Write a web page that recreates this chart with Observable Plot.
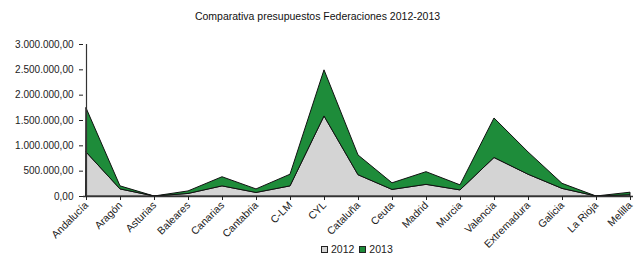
<!DOCTYPE html>
<html>
<head>
<meta charset="utf-8">
<script src="https://cdn.jsdelivr.net/npm/d3@7"></script>
<script src="https://cdn.jsdelivr.net/npm/@observablehq/plot@0.6"></script>
<style>
  html, body { margin: 0; padding: 0; background: #fff; }
  #wrap { position: relative; width: 635px; height: 257px; font-family: "Liberation Sans", Arial, sans-serif; overflow: hidden; }
  #title { position: absolute; top: 10px; left: 0; width: 635px; text-align: center; font-size: 10.5px; color: #111; }
  #legend { position: absolute; top: 243px; left: 321px; font-size: 10.5px; color: #222; display: flex; align-items: center; gap: 3px; }
  .sw { display: inline-block; width: 5px; height: 5px; border: 1px solid #222; }
  #chart { position: absolute; top: 0; left: 0; }
</style>
</head>
<body>
<div id="wrap">
  <div id="chart"></div>
  <div id="title">Comparativa presupuestos Federaciones 2012-2013</div>
  <div id="legend"><span class="sw" style="background:#d4d4d4"></span><span>2012</span><span class="sw" style="background:#1e8c3a;margin-left:2px"></span><span>2013</span></div>
</div>
<script>
const categories = ["Andalucía","Aragón","Asturias","Baleares","Canarias","Cantabria","C-LM","CYL","Cataluña","Ceuta","Madrid","Murcia","Valencia","Extremadura","Galicia","La Rioja","Melilla"];
const values2012 = [870000,140000,0,50000,200000,70000,200000,1580000,420000,130000,230000,120000,760000,430000,150000,0,25000];
const values2013 = [870000,60000,0,50000,180000,70000,230000,910000,390000,130000,250000,100000,780000,440000,100000,0,50000];
const yTicks = [0,500000,1000000,1500000,2000000,2500000,3000000];
const series = ["2012","2013"];

const data = [];
series.forEach((s, si) => {
  const vals = si === 0 ? values2012 : values2013;
  categories.forEach((c, i) => data.push({cat: c, year: s, value: vals[i]}));
});

const fmt = d3.formatLocale({decimal: ",", thousands: ".", grouping: [3], currency: ["", ""]}).format(",.2f");

const chart = Plot.plot({
  width: 635,
  height: 257,
  marginLeft: 83,
  marginRight: 2,
  marginTop: 44,
  marginBottom: 61,
  style: {fontFamily: "'Liberation Sans', Arial, sans-serif", fontSize: "10px", color: "#222", background: "transparent"},
  x: {type: "point", domain: categories, padding: 0, label: null},
  y: {domain: [0, 3000000], label: null},
  color: {domain: series, range: ["#d4d4d4", "#1e8c3a"]},
  marks: [
    Plot.areaY(data, {x: "cat", y: "value", z: "year", fill: "year", stroke: "#111", strokeWidth: 1}),
    Plot.ruleY([0], {stroke: "#333", strokeWidth: 1.5}),
    Plot.ruleX([categories[0]], {y1: 0, y2: 3000000, stroke: "#333", strokeWidth: 1.2}),
    Plot.axisY({ticks: yTicks, tickFormat: fmt, tickSize: 4, tickPadding: 6, fontSize: 10, label: null}),
    Plot.axisX({tickRotate: -45, tickSize: 4, tickPadding: 3, fontSize: 10.5, label: null})
  ]
});
document.getElementById("chart").appendChild(chart);
</script>
</body>
</html>
